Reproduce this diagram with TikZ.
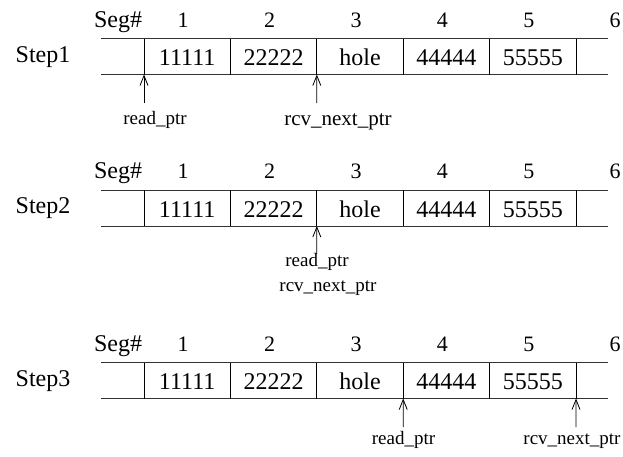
\documentclass[tikz,border=0pt]{standalone}
\usepackage{fontspec}
\setmainfont{Liberation Serif}
\usetikzlibrary{arrows.meta,positioning}

\begin{document}
\begin{tikzpicture}[x=1pt,y=-1pt,>={Straight Barb[length=10pt,width=8pt]},
  rail/.style={line width=1pt,draw=black!80},
  wall/.style={line width=0.8pt},
  ptr/.style={line width=0.8pt,->},
  big/.style={anchor=base,inner sep=0pt,font=\fontsize{24}{28}\selectfont},
  segno/.style={anchor=base,inner sep=0pt,font=\fontsize{22}{26}\selectfont},
  ptrlbl/.style={anchor=base,inner sep=0pt,font=\fontsize{19}{22}\selectfont}]

\useasboundingbox (0,0) rectangle (623,456);

\foreach \r/\t in {1/38.5,2/190,3/362.5} {
  \draw[rail] (101,\t) -- (608,\t) (101,\t+36) -- (608,\t+36);
  \foreach \i in {1,...,6} {
    \coordinate (w\r\i) at ({144+86.4*(\i-1)},\t+36);
    \draw[wall] ({144+86.4*(\i-1)},\t) -- (w\r\i);
    \node[segno] (n\r\i) at ({183.2+86.4*(\i-1)},\t-11.5) {\i};
  }
  \foreach \i/\txt in {1/11111,2/22222,3/hole,4/44444,5/55555}
    \node[big] (c\r\i) at ({187.2+86.4*(\i-1)},\t+27) {\txt};
  \node[big] (seg\r) at (118,\t-11.5) {Seg\#};
  \node[big] (step\r) at (43,\t+23.5) {Step\r};
}

% Step1
\coordinate (tail1a) at (144,103);
\coordinate (tail1b) at (316.8,103);
\draw[ptr] (tail1a) -- (w11);
\draw[ptr] (tail1b) -- (w13);
\node[ptrlbl] (read1) at (155,124) {read\_ptr};
\node[ptrlbl,font=\fontsize{21}{24}\selectfont] (rcv1) at (338,125) {rcv\_next\_ptr};

% Step2
\coordinate (tail2) at (316.8,254);
\draw[ptr] (tail2) -- (w23);
\node[ptrlbl] (read2) at (317,266) {read\_ptr};
\node[ptrlbl] (rcv2) at (328,291) {rcv\_next\_ptr};

% Step3
\coordinate (tail3a) at (403.2,427);
\coordinate (tail3b) at (576,427);
\draw[ptr] (tail3a) -- (w34);
\draw[ptr] (tail3b) -- (w36);
\node[ptrlbl] (read3) at (403.5,444) {read\_ptr};
\node[ptrlbl] (rcv3) at (572,444) {rcv\_next\_ptr};
\end{tikzpicture}
\end{document}
